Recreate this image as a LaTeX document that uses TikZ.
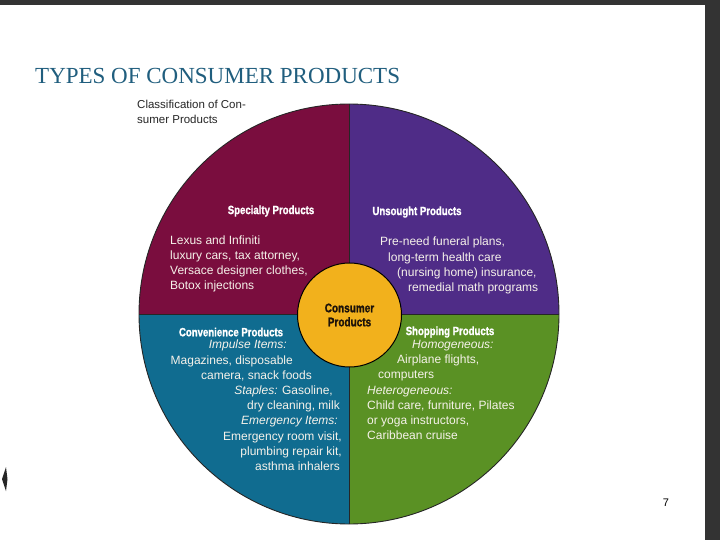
\documentclass[tikz,border=0pt]{standalone}
\usepackage{fontspec}
\setmainfont{Liberation Serif}
\setsansfont{Liberation Sans}
\newfontfamily\headfont[FakeStretch=0.8,BoldFeatures={FakeBold=1.2}]{Liberation Sans}
\usetikzlibrary{positioning,calc}

\definecolor{specialtyred}{HTML}{7A0D3E}
\definecolor{unsoughtpurple}{HTML}{4F2C87}
\definecolor{conveniblue}{HTML}{106C90}
\definecolor{shopgreen}{HTML}{5A9124}
\definecolor{hubyellow}{HTML}{F2B11C}
\definecolor{titleblue}{HTML}{205E7E}
\definecolor{framegray}{HTML}{333333}
\definecolor{paletext}{HTML}{F6F2EA}

\begin{document}
\begin{tikzpicture}[
    x=1pt, y=1pt,
    quarter/.style={draw=black!85, line width=0.9pt},
    head/.style={
        font=\headfont\bfseries\fontsize{12}{14}\selectfont,
        text=white,
        inner sep=0pt
    },
    body/.style={
        font=\sffamily\fontsize{12}{15.2}\selectfont,
        text=paletext,
        inner sep=0pt
    },
    hub/.style={
        circle,
        draw=black,
        line width=1pt,
        fill=hubyellow,
        minimum size=104pt,
        inner sep=0pt,
        align=center,
        font=\headfont\bfseries\fontsize{12.5}{14}\selectfont,
        text=black!85!brown
    }
]

\useasboundingbox (0,0) rectangle (720,-540);
\fill[white] (0,0) rectangle (720,-540);

% slide frame
\fill[framegray] (0,0) rectangle (720,-5);
\fill[framegray] (705,0) rectangle (720,-540);
\fill[black!85] (6,-467) -- (2,-479) -- (6,-491) -- (7.5,-479) -- cycle;

\node[anchor=base west, font=\fontsize{23}{26}\selectfont, text=titleblue, inner sep=0pt]
    (title) at (35,-84) {TYPES OF CONSUMER PRODUCTS};
\node[anchor=north west, align=left, inner sep=0pt, text=black!85,
    font=\sffamily\fontsize{11.5}{14.5}\selectfont]
    (caption) at (137,-100) {Classification of Con-\\sumer Products};

% the four quarters
\coordinate (o) at (349,-314);
\fill[specialtyred] (o) -- ++(-210,0) arc[start angle=180, end angle=90, radius=210] -- cycle;
\fill[unsoughtpurple] (o) -- ++(0,210) arc[start angle=90, end angle=0, radius=210] -- cycle;
\fill[shopgreen] (o) -- ++(210,0) arc[start angle=0, end angle=-90, radius=210] -- cycle;
\fill[conveniblue] (o) -- ++(0,-210) arc[start angle=-90, end angle=-180, radius=210] -- cycle;
\draw[quarter] (o) circle[radius=210];
\draw[quarter] ($(o)+(-210,0)$) -- ($(o)+(210,0)$);
\draw[quarter] ($(o)+(0,210)$) -- ($(o)+(0,-210)$);

\node[hub] (hub) at (349.5,-315) {Consumer\\Products};

% specialty
\node[head] (specialty) at (271,-211) {Specialty Products};
\node[body, anchor=north west, align=left] (specialtyex) at (170,-235.5)
    {Lexus and Infiniti\\luxury cars, tax attorney,\\Versace designer clothes,\\Botox injections};

% unsought
\node[head] (unsought) at (417,-212) {Unsought Products};
\node[body, anchor=north west, align=left] (unsoughtex) at (380,-237)
    {Pre-need funeral plans,\\
     \hspace*{8pt}long-term health care\\
     \hspace*{17pt}(nursing home) insurance,\\
     \hspace*{28pt}remedial math programs};

% convenience
\node[head] (convenience) at (231,-332) {Convenience Products};
\node[body, anchor=north east, align=right] (convenienceex) at (342,-340)
    {\textit{Impulse Items:}\kern55pt\\
     Magazines, disposable\kern49pt\\
     camera, snack foods\kern30pt\\
     \textit{Staples:} Gasoline,\kern9pt\\
     dry cleaning, milk\kern2pt\\
     \textit{Emergency Items:}\kern4pt\\
     Emergency room visit,\\
     plumbing repair kit,\\
     asthma inhalers\kern2pt};

% shopping
\node[head] (shopping) at (450,-332) {Shopping Products};
\node[body, anchor=north west, align=left] (shoppingex) at (367,-340)
    {\hspace*{45pt}\textit{Homogeneous:}\\
     \hspace*{30pt}Airplane flights,\\
     \hspace*{11pt}computers\\
     \textit{Heterogeneous:}\\
     Child care, furniture, Pilates\\
     or yoga instructors,\\
     Caribbean cruise};

\node[font=\sffamily\fontsize{11}{13}\selectfont, inner sep=0pt] (pagenum) at (666,-503) {7};

\end{tikzpicture}
\end{document}
